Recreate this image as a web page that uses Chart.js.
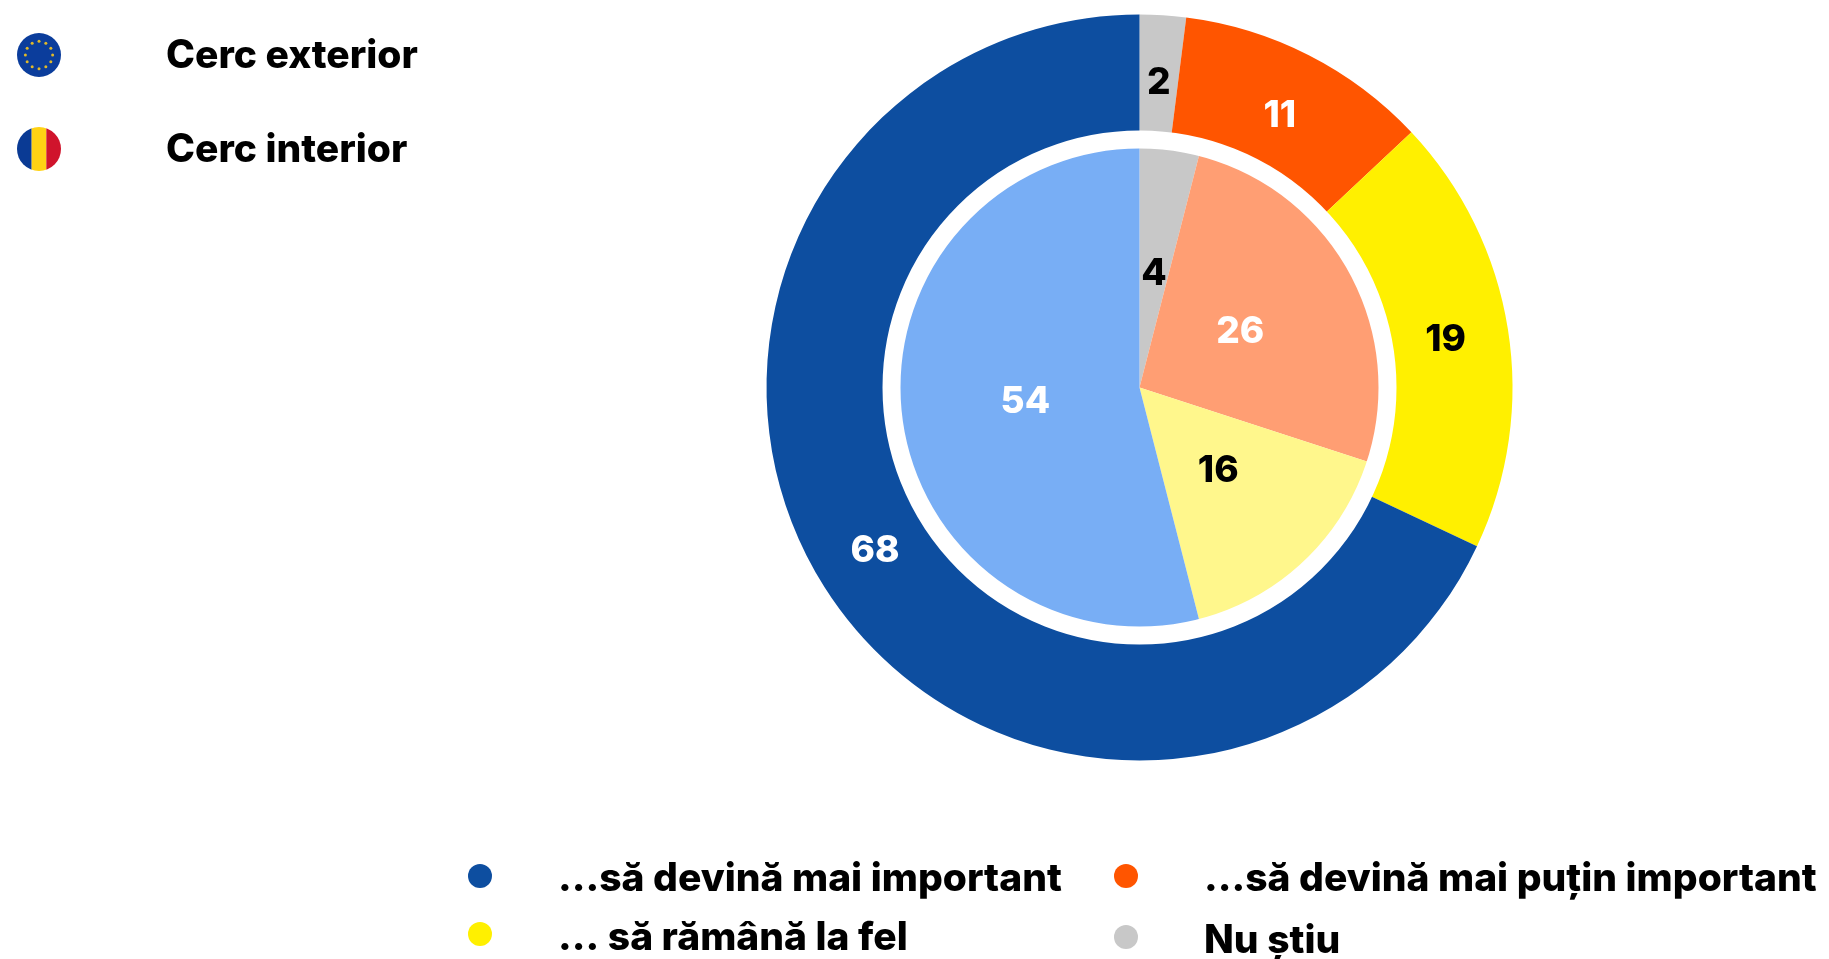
<!DOCTYPE html>
<html><head><meta charset="utf-8">
<style>html,body{margin:0;padding:0;background:#fff}#w{position:relative;width:1829px;height:959px}</style>
<script src="https://cdn.jsdelivr.net/npm/chart.js@4/dist/chart.umd.min.js"></script>
</head><body><div id="w"><canvas id="c" width="1829" height="959"></canvas></div>
<script>
const categories = ['Nu știu', '...să devină mai puțin important', '... să rămână la fel', '...să devină mai important'];
const outerValues = [2, 11, 19, 68];
const innerValues = [4, 26, 16, 54];
const outerColors = ['#C8C8C8', '#FF5500', '#FFF000', '#0D4EA0'];
const innerColors = ['#C8C8C8', '#FF9E73', '#FFF78C', '#78AEF5'];
const outerLabelColors = ['#000000', '#FFFFFF', '#000000', '#FFFFFF'];
const innerLabelColors = ['#000000', '#FFFFFF', '#000000', '#FFFFFF'];
const ringLegendLabels = ['Cerc exterior', 'Cerc interior'];
const legendOrder = [3, 1, 2, 0];

const FONT = 'Inter, sans-serif';

function drawEuFlag(ctx, x, y, r) {
  ctx.fillStyle = '#0B3D9C';
  ctx.beginPath(); ctx.arc(x, y, r, 0, Math.PI * 2); ctx.fill();
  ctx.fillStyle = '#E0B92A';
  for (let i = 0; i < 12; i++) {
    const a = i * Math.PI / 6;
    ctx.beginPath();
    ctx.arc(x + Math.sin(a) * r * 0.62, y - Math.cos(a) * r * 0.62, 1.5, 0, Math.PI * 2);
    ctx.fill();
  }
}
function drawRoFlag(ctx, x, y, r) {
  ctx.save();
  ctx.beginPath(); ctx.arc(x, y, r, 0, Math.PI * 2); ctx.clip();
  const w = 2 * r / 3;
  ctx.fillStyle = '#0A3A94'; ctx.fillRect(x - r, y - r, w, 2 * r);
  ctx.fillStyle = '#FFD214'; ctx.fillRect(x - r + w, y - r, w, 2 * r);
  ctx.fillStyle = '#D0142C'; ctx.fillRect(x - r + 2 * w, y - r, w, 2 * r);
  ctx.restore();
}

const decorations = {
  id: 'decorations',
  afterDatasetsDraw(chart) {
    const ctx = chart.ctx;
    const outerMeta = chart.getDatasetMeta(0);
    const innerMeta = chart.getDatasetMeta(1);
    const a0 = outerMeta.data[0];
    const cx = a0.x, cy = a0.y;

    ctx.save();
    ctx.strokeStyle = '#fff';
    ctx.lineWidth = 18;
    ctx.beginPath(); ctx.arc(cx, cy, a0.innerRadius, 0, Math.PI * 2); ctx.stroke();

    ctx.textAlign = 'center';
    ctx.textBaseline = 'middle';
    ctx.font = '800 37px ' + FONT;
    const put = (arc, radius, text, color, dx, dy) => {
      const mid = (arc.startAngle + arc.endAngle) / 2;
      ctx.fillStyle = color;
      ctx.fillText(text, cx + Math.cos(mid) * radius + dx, cy + Math.sin(mid) * radius + dy);
    };
    const outerNudge = [[0, 3.5], [0, 3.5], [1, 1], [-3.5, -2.3]];
    outerMeta.data.forEach((arc, i) => put(arc, 309, String(outerValues[i]), outerLabelColors[i], outerNudge[i][0], outerNudge[i][1]));
    innerMeta.data.forEach((arc, i) => put(arc, 115, String(innerValues[i]), innerLabelColors[i], 0, 0));

    drawEuFlag(ctx, 39, 55, 22);
    drawRoFlag(ctx, 39, 149, 22);
    ctx.textAlign = 'left';
    ctx.fillStyle = '#000';
    ctx.font = '800 39px ' + FONT;
    ctx.fillText(ringLegendLabels[0], 166, 56.5);
    ctx.fillText(ringLegendLabels[1], 166, 150.5);

    const cols = [[480, 558], [1126, 1204]];
    const dotRows = [876, 934];
    const textRows = [879.5, 938.5];
    const nudge = [0, 0, 0, 3];
    ctx.font = '800 39px ' + FONT;
    legendOrder.forEach((idx, n) => {
      const c = cols[n % 2], row = Math.floor(n / 2);
      ctx.fillStyle = outerColors[idx];
      ctx.beginPath(); ctx.arc(c[0], dotRows[row] + nudge[n], 12, 0, Math.PI * 2); ctx.fill();
      ctx.fillStyle = '#000';
      ctx.fillText(categories[idx], c[1], textRows[row] + nudge[n]);
    });
    ctx.restore();
  }
};

new Chart(document.getElementById('c'), {
  type: 'doughnut',
  data: {
    labels: categories,
    datasets: [
      { data: outerValues, backgroundColor: outerColors, borderWidth: 0, weight: 125 },
      { data: innerValues, backgroundColor: innerColors, borderWidth: 0, weight: 248 }
    ]
  },
  options: {
    responsive: false,
    animation: false,
    cutout: 0,
    layout: { padding: { left: 766.5, right: 316.5, top: 14.5, bottom: 198.5 } },
    plugins: { legend: { display: false }, tooltip: { enabled: false } }
  },
  plugins: [decorations]
});
</script></body></html>
